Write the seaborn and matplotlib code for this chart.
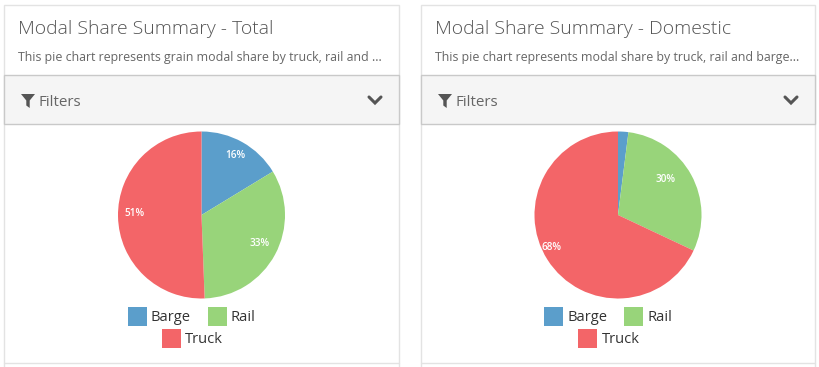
import matplotlib
matplotlib.use('Agg')
import matplotlib.pyplot as plt
from matplotlib.patches import Rectangle, Polygon
from matplotlib.lines import Line2D
import seaborn as sns

# values
modes = ['Barge', 'Rail', 'Truck']
total_share = [16.3, 33.1, 50.6]
domestic_share = [2, 30, 68]
titles = ['Modal Share Summary - Total', 'Modal Share Summary - Domestic']
subtitles = ['This pie chart represents grain modal share by truck, rail and ...',
             'This pie chart represents modal share by truck, rail and barge...']
mode_colors = ['#5b9ecb', '#98d47a', '#f36568']

sns.set_theme(style='white')
plt.rcParams['font.family'] = ['Open Sans', 'DejaVu Sans']

W, H = 820, 367
fig = plt.figure(figsize=(W / 100, H / 100), dpi=100, facecolor='white')

# overlay in pixel coords for the page furniture
page = fig.add_axes([0, 0, 1, 1])
page.set_xlim(0, W)
page.set_ylim(H, 0)
page.axis('off')


def draw_card(left, right, title, subtitle, share, cx, label_pos):
    page.add_patch(Rectangle((left, 4.5), right - left, 400, fc='white', ec='#e3e3e3', lw=1))
    page.add_patch(Rectangle((left, 75), right - left, 48.5, fc='#f5f5f5', ec='#c9c9c9', lw=1))
    page.add_line(Line2D([left, right], [362.5, 362.5], color='#e3e3e3', lw=1))

    page.text(left + 14.5, 28.5, title, fontsize=13.95, color='#555555', va='center', fontweight='light')
    page.text(left + 14, 57.5, subtitle, fontsize=8.95, color='#666666', va='center')

    # filter icon and chevron
    fx = left + 17
    page.add_patch(Polygon([(fx, 94), (fx + 14, 94), (fx + 8.7, 100.5), (fx + 8.7, 108),
                            (fx + 5.3, 105.5), (fx + 5.3, 100.5)], fc='#555555', ec='none'))
    page.text(left + 35, 102, 'Filters', fontsize=10.9, color='#666666', va='center')
    chx = right - 24
    page.add_line(Line2D([chx - 6, chx, chx + 6], [97, 103, 97], color='#555555', lw=2.2,
                         solid_joinstyle='miter'))

    # pie
    r = 83.5
    cy = 215
    ax = fig.add_axes([(cx - r) / W, 1 - (cy + r) / H, 2 * r / W, 2 * r / H])
    ax.pie(share, colors=mode_colors, startangle=90, counterclock=False, radius=1,
           wedgeprops={'linewidth': 0})
    ax.set_xlim(-1, 1)
    ax.set_ylim(-1, 1)
    for val, (dx, dy) in zip(share, label_pos):
        if val < 5:
            continue
        ax.text(dx / r, -dy / r, '%.0f%%' % val, color='white', fontsize=7.2,
                fontweight='semibold', ha='center', va='center')

    # legend
    off = cx - 201.5
    boxes = [(128, 307), (208, 307), (162, 329)]
    for name, col, (bx, by) in zip(modes, mode_colors, boxes):
        page.add_patch(Rectangle((bx + off, by), 19, 19, fc=col, ec='none'))
        page.text(bx + off + 23, by + 10.8, name, fontsize=10.6, color='#333333', va='center')


draw_card(4, 399, titles[0], subtitles[0], total_share, 201.5,
          [(33.5, -60), (58, 29), (-66.5, -1)])
draw_card(421, 815, titles[1], subtitles[1], domestic_share, 618,
          [(0, 0), (48, -35), (-67, 33)])

fig.savefig('out.png', dpi=100)
